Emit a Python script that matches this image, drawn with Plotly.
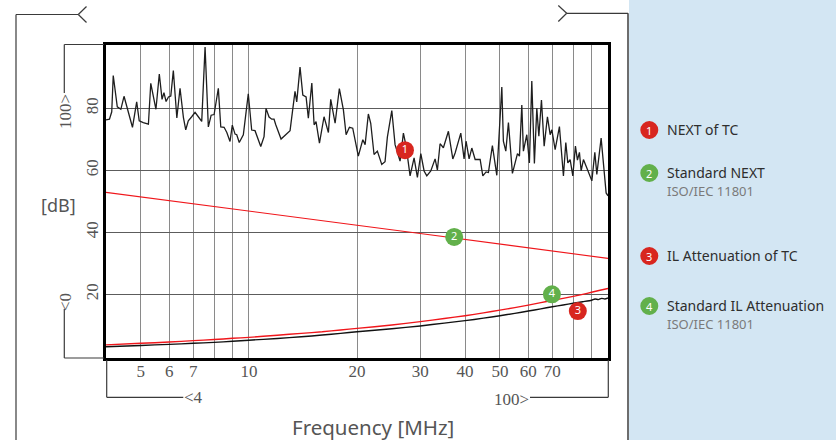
import plotly.graph_objects as go

# ---- measured NEXT of the test cable (TC) ----
next_tc_freq = [
    4.00, 4.09, 4.15, 4.19, 4.30, 4.40, 4.49, 4.62, 4.74, 4.87, 4.95, 5.08, 5.25, 5.33,
    5.51, 5.63, 5.73, 5.80, 5.88, 5.97, 6.06, 6.16, 6.30, 6.43, 6.57, 6.67, 6.78, 6.93,
    7.08, 7.23, 7.39, 7.55, 7.71, 7.85, 8.00, 8.22, 8.35, 8.53, 8.68, 8.86, 8.99, 9.15,
    9.25, 9.40, 9.65, 9.96, 10.18, 10.40, 10.79, 11.02, 11.16, 11.38, 11.58, 11.75,
    11.88, 12.29, 13.02, 13.44, 13.59, 13.88, 14.13, 14.43, 14.64, 14.97, 15.19, 15.38,
    15.72, 16.19, 16.65, 16.90, 17.38, 17.86, 18.33, 18.65, 19.05, 19.46, 20.17, 20.76,
    21.07, 21.51, 21.84, 22.31, 22.79, 23.44, 23.94, 24.30, 25.00, 25.53, 26.36, 26.93,
    27.40, 28.11, 28.84, 29.46, 30.11, 30.75, 31.29, 32.10, 33.00, 33.49, 34.07, 34.80,
    35.94, 36.97, 37.52, 38.91, 39.74, 40.25, 41.04, 41.76, 42.66, 44.05, 44.81, 45.77,
    46.45, 47.65, 49.02, 50.62, 51.13, 51.93, 52.81, 54.18, 55.96, 56.68, 57.54, 58.13,
    59.41, 60.41, 61.35, 62.38, 63.35, 64.18, 65.27, 66.41, 67.82, 69.01, 69.76, 71.25,
    73.24, 75.14, 76.30, 77.28, 78.44, 79.80, 81.15, 82.20, 83.26, 84.18, 85.43, 87.65,
    90.16, 91.90, 93.09, 95.69, 97.11, 98.81, 100.0,
]
next_tc_db = [
    76.3, 76.5, 78.9, 90.6, 80.5, 79.7, 83.9, 78.9, 73.9, 82.1, 76.0, 75.4, 74.9, 88.1,
    79.7, 91.1, 82.9, 85.1, 82.2, 83.7, 84.0, 92.2, 76.9, 86.5, 77.1, 73.1, 76.0, 77.3,
    78.7, 77.3, 75.8, 99.8, 74.0, 77.8, 78.0, 86.5, 74.0, 73.9, 72.2, 69.3, 74.6, 71.7,
    71.5, 69.0, 71.5, 84.7, 73.0, 72.8, 67.7, 70.9, 80.0, 77.2, 76.5, 76.5,
    74.7, 70.1, 72.8, 85.5, 82.1, 93.3, 84.3, 83.7, 76.8, 88.2, 74.7, 75.7,
    68.8, 77.3, 72.2, 82.9, 75.2, 86.4, 79.5, 71.5, 73.9, 73.6, 64.6, 69.9,
    68.3, 78.2, 75.2, 65.1, 66.2, 61.9, 62.8, 70.7, 79.3, 68.3, 63.0, 72.0,
    67.8, 58.2, 64.0, 57.7, 65.4, 59.8, 58.2, 59.8, 63.7, 60.1, 68.6, 67.3,
    72.6, 63.7, 65.6, 72.0, 63.7, 69.4, 63.7, 67.2, 63.5, 63.5, 58.2, 59.5,
    59.3, 68.0, 58.4, 86.9, 69.4, 66.2, 75.4, 59.0, 65.4, 64.6, 81.1, 66.2,
    71.5, 62.4, 88.8, 62.2, 80.0, 71.0, 82.7, 67.8, 77.3, 71.5, 73.1, 66.7,
    74.1, 58.2, 69.0, 62.4, 63.5, 58.2, 67.8, 63.3, 65.8, 59.8, 63.5, 60.3,
    56.6, 65.8, 58.7, 70.4, 62.4, 52.7, 51.8,
]

# ---- ISO/IEC 11801 limits ----
std_next_freq = [4, 5, 6, 7, 8, 10, 15, 20, 30, 40, 50, 60, 70, 80, 90, 100]
std_next_db = [52.9, 51.4, 50.2, 49.2, 48.3, 46.9, 44.2, 42.3, 39.6, 37.7, 36.2,
               35.0, 34.0, 33.1, 32.3, 31.6]

std_il_freq = [4, 5, 6, 7, 8, 9, 10, 12, 14, 16, 18, 20, 25, 30, 35, 40, 45, 50,
               55, 60, 65, 70, 75, 80, 85, 90, 95, 100]
std_il_db = [3.7, 4.2, 4.6, 5.05, 5.4, 5.8, 6.1, 6.8, 7.4, 7.9, 8.5, 9.0, 10.1,
             11.2, 12.2, 13.1, 14.0, 14.9, 15.7, 16.5, 17.3, 18.05, 18.7, 19.35,
             20.0, 20.65, 21.3, 21.9]

# ---- measured insertion loss of the TC ----
il_tc_freq = [4, 5, 6, 7, 8, 9, 10, 12, 14, 16, 18, 20, 25, 30, 35, 40, 45, 50, 55,
              60, 65, 70, 75, 80, 85, 90, 92, 94, 96, 98, 100]
il_tc_db = [3.1, 3.5, 3.85, 4.2, 4.5, 4.85, 5.2, 5.75, 6.3, 6.85, 7.4, 7.9, 8.9,
            9.8, 10.7, 11.5, 12.3, 13.1, 13.85, 14.6, 15.3, 16.0, 16.55, 17.1,
            17.6, 18.1, 18.5, 18.3, 18.7, 18.5, 18.8]

# numbered badges placed on the curves
badge_text = ["1", "2", "3", "4"]
badge_freq = [27.2, 37.3, 82.4, 69.8]
badge_db = [66.5, 38.5, 14.6, 20.0]

# axis ticks
x_grid = [5, 6, 7, 8, 9, 10, 20, 30, 40, 50, 60, 70, 80, 90]
x_ticktext = ["5", "6", "7", "", "", "10", "20", "30", "40", "50", "60", "70", "", ""]
y_ticks = [20, 40, 60, 80]

# legend entries
legend_titles = ["NEXT of TC", "Standard NEXT", "IL Attenuation of TC", "Standard IL Attenuation"]
legend_notes = ["", "ISO/IEC 11801", "", "ISO/IEC 11801"]

RED = "#d8261f"
GREEN = "#62b04b"
LINE_RED = "#f0161b"
badge_colors = [RED, GREEN, RED, GREEN]

W, H = 836, 440
ML, MR, MT, MB = 106, 228, 45, 82
PW, PH = W - ML - MR, H - MT - MB


def px(x):
    return (x - ML) / PW


def py(y):
    return (H - MB - y) / PH


SERIF = "Liberation Serif"
SANS = "Noto Sans"
GREY_TXT = "#555555"
DECO = "#3a3a3a"

fig = go.Figure()

fig.add_trace(go.Scatter(x=std_next_freq, y=std_next_db, mode="lines",
                         line=dict(color=LINE_RED, width=1.1), hoverinfo="skip"))
fig.add_trace(go.Scatter(x=il_tc_freq, y=il_tc_db, mode="lines",
                         line=dict(color="#111111", width=1.4, shape="spline", smoothing=0.6),
                         hoverinfo="skip"))
fig.add_trace(go.Scatter(x=std_il_freq, y=std_il_db, mode="lines",
                         line=dict(color=LINE_RED, width=1.4, shape="spline", smoothing=0.6),
                         hoverinfo="skip"))
fig.add_trace(go.Scatter(x=next_tc_freq, y=next_tc_db, mode="lines",
                         line=dict(color="#1e1e1e", width=1.3), hoverinfo="skip"))
fig.add_trace(go.Scatter(
    x=badge_freq, y=badge_db, mode="markers+text", text=badge_text,
    textposition="middle center",
    textfont=dict(color="white", size=11, family=SANS),
    marker=dict(size=18, color=badge_colors, line=dict(width=0)),
    hoverinfo="skip"))

shapes = []


def seg(x0, y0, x1, y1, color=DECO, width=1.2):
    shapes.append(dict(type="line", xref="paper", yref="paper",
                       x0=px(x0), y0=py(y0), x1=px(x1), y1=py(y1),
                       line=dict(color=color, width=width)))


# legend panel
shapes.append(dict(type="rect", xref="paper", yref="paper", layer="below",
                   x0=px(629), x1=px(840), y0=py(-2), y1=py(442),
                   fillcolor="#d3e6f3", line=dict(width=0)))
seg(628, 13.3, 628, 442, color="#6d6d6d", width=2)

# outer dimension brackets
seg(16, 14.5, 16, 442)
seg(16, 14.5, 78.3, 14.5)
seg(78.3, 14.5, 86.5, 6.5)
seg(78.3, 14.5, 86.5, 22.5)
seg(566.7, 13.3, 628, 13.3)
seg(566.7, 13.3, 558.3, 5.5)
seg(566.7, 13.3, 558.3, 21.5)

# value-range brackets around the plot
seg(64.3, 44.5, 104, 44.5)
seg(64.3, 44.5, 64.3, 93)
seg(64.3, 309, 64.3, 358)
seg(64.3, 358, 104, 358)
seg(106.7, 360, 106.7, 397.3)
seg(106.7, 397.3, 183.3, 397.3)
seg(530, 397.3, 608.3, 397.3)
seg(608.3, 360, 608.3, 397.3)

annotations = []


def note(x, y, text, size, color=GREY_TXT, family=SANS, angle=0, xanchor="center"):
    annotations.append(dict(xref="paper", yref="paper", x=px(x), y=py(y), text=text,
                            showarrow=False, xanchor=xanchor, yanchor="middle",
                            textangle=angle,
                            font=dict(family=family, size=size, color=color)))


note(65, 112, "100&gt;", 17, family=SERIF, angle=-90)
note(65, 302, "&lt;0", 17, family=SERIF, angle=-90)
note(182, 398, "&lt;4", 17, family=SERIF, xanchor="left")
note(531, 399, "100&gt;", 17, family=SERIF, xanchor="right")
note(58, 205, "[dB]", 18)
note(373, 427, "Frequency [MHz]", 20.5)

legend_y = [129, 172, 255, 305]
for i, (title, sub) in enumerate(zip(legend_titles, legend_notes)):
    yc = legend_y[i]
    shapes.append(dict(type="circle", xref="paper", yref="paper",
                       xsizemode="pixel", ysizemode="pixel",
                       xanchor=px(649.3), yanchor=py(yc + 1),
                       x0=-9, x1=9, y0=-9, y1=9,
                       fillcolor=badge_colors[i], line=dict(width=0)))
    note(649.3, yc + 1, badge_text[i], 11, color="white")
    note(665, yc, title, 14, color="#2e2e2e", xanchor="left")
    if sub:
        note(665, yc + 18.5, sub, 13, color="#7a7a7a", xanchor="left")

fig.update_layout(
    width=W, height=H,
    margin=dict(l=ML, r=MR, t=MT, b=MB, pad=0),
    paper_bgcolor="white", plot_bgcolor="white",
    showlegend=False,
    shapes=shapes, annotations=annotations,
    xaxis=dict(type="log", range=[0.60206, 2.0], tickvals=x_grid, ticktext=x_ticktext,
               showgrid=True, gridcolor="#8a8a8a", gridwidth=1.2,
               showline=True, mirror=True, linecolor="black", linewidth=2.6,
               ticks="", zeroline=False, ticklabelstandoff=-4,
               tickfont=dict(family=SERIF, size=17, color=GREY_TXT)),
    yaxis=dict(range=[-0.55, 100.45], tickvals=y_ticks,
               showgrid=True, gridcolor="#5c5c5c", gridwidth=1.1,
               showline=True, mirror=True, linecolor="black", linewidth=2.6,
               ticks="", zeroline=False, tickangle=-90, ticklabelstandoff=-2,
               tickfont=dict(family=SERIF, size=17, color=GREY_TXT)),
)

fig.write_html("out.html")
